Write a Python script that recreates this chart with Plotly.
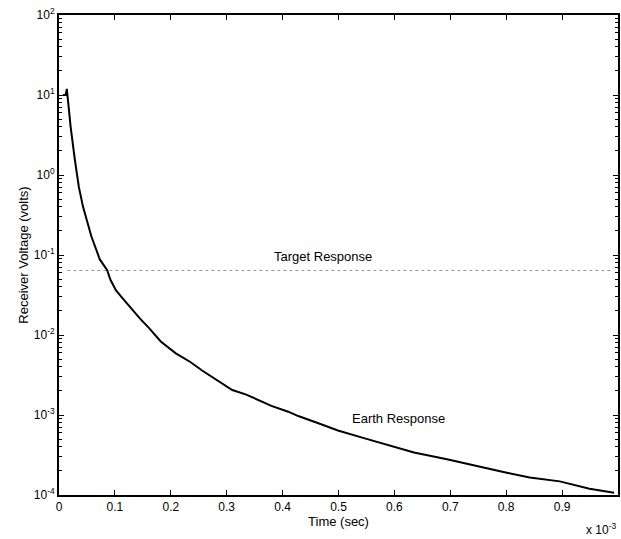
import plotly.graph_objects as go

# Earth response (time in units of 1e-3 s, voltage in volts)
earth_t = [0.007, 0.012, 0.014, 0.0208, 0.0284, 0.0355, 0.043, 0.058, 0.073, 0.086, 0.092,
           0.102, 0.115, 0.13, 0.145, 0.1616, 0.182, 0.209, 0.235, 0.256, 0.28, 0.31, 0.335,
           0.357, 0.38, 0.41, 0.428, 0.464, 0.499, 0.547, 0.600, 0.635, 0.694, 0.748, 0.783,
           0.801, 0.842, 0.896, 0.949, 0.993]
earth_v = [10.0, 10.0, 11.9, 4.0, 1.54, 0.71, 0.40, 0.17, 0.088, 0.065, 0.049,
           0.036, 0.028, 0.021, 0.016, 0.0121, 0.0083, 0.0059, 0.0046, 0.0036, 0.0028,
           0.00205, 0.0018, 0.00154, 0.0013, 0.0011, 0.00097, 0.00079, 0.00064, 0.00051,
           0.00040, 0.00034, 0.00028, 0.00023, 0.00020, 0.00019, 0.000166, 0.000148,
           0.00012, 0.000107]

# Target response (constant level)
target_t = [0.015, 0.99]
target_v = [0.064, 0.064]

x_ticks = [0, 0.1, 0.2, 0.3, 0.4, 0.5, 0.6, 0.7, 0.8, 0.9]
x_labels = ["0", "0.1", "0.2", "0.3", "0.4", "0.5", "0.6", "0.7", "0.8", "0.9"]
y_ticks = [1e-4, 1e-3, 1e-2, 1e-1, 1e0, 1e1, 1e2]
y_labels = ["10<sup>-4</sup>", "10<sup>-3</sup>", "10<sup>-2</sup>", "10<sup>-1</sup>",
            "10<sup>0</sup>", "10<sup>1</sup>", "10<sup>2</sup>"]
y_minor = [m * 10.0 ** e for e in range(-4, 2) for m in range(2, 10)]

font = "Liberation Sans, Arial, sans-serif"

fig = go.Figure()
fig.add_trace(go.Scatter(x=target_t, y=target_v, mode="lines",
                         line=dict(color="#999999", width=1, dash="dot"),
                         showlegend=False, hoverinfo="skip"))
fig.add_trace(go.Scatter(x=earth_t, y=earth_v, mode="lines",
                         line=dict(color="black", width=2),
                         showlegend=False))

fig.add_annotation(x=0.473, y=-1.02, xref="x", yref="y", text="Target Response",
                   showarrow=False, font=dict(family=font, size=13, color="black"))
fig.add_annotation(x=0.608, y=-3.04, xref="x", yref="y", text="Earth Response",
                   showarrow=False, font=dict(family=font, size=13, color="black"))
fig.add_annotation(x=1.0, y=-0.05, xref="paper", yref="paper", text="x 10<sup>-3</sup>",
                   showarrow=False, xanchor="right", yanchor="top",
                   font=dict(family=font, size=12, color="black"))

fig.update_layout(
    width=621, height=539,
    margin=dict(l=59, r=1, t=15, b=44),
    paper_bgcolor="white", plot_bgcolor="white",
    font=dict(family=font, size=12, color="black"),
    xaxis=dict(range=[0, 1.0], tickvals=x_ticks, ticktext=x_labels,
               ticks="inside", ticklen=5, tickwidth=1, tickcolor="black",
               showline=True, linecolor="black", linewidth=2, mirror="ticks",
               showgrid=False, zeroline=False,
               title=dict(text="Time (sec)", standoff=0, font=dict(size=13))),
    yaxis=dict(type="log", range=[-4, 2], tickvals=y_ticks, ticktext=y_labels,
               ticks="inside", ticklen=5, tickwidth=1, tickcolor="black",
               showline=True, linecolor="black", linewidth=2, mirror="ticks",
               showgrid=False, zeroline=False,
               minor=dict(tickmode="array", tickvals=y_minor, ticks="inside", ticklen=3,
                          tickcolor="black", showgrid=False),
               title=dict(text="Receiver Voltage (volts)", standoff=2, font=dict(size=13))),
)

fig.write_html("out.html")
